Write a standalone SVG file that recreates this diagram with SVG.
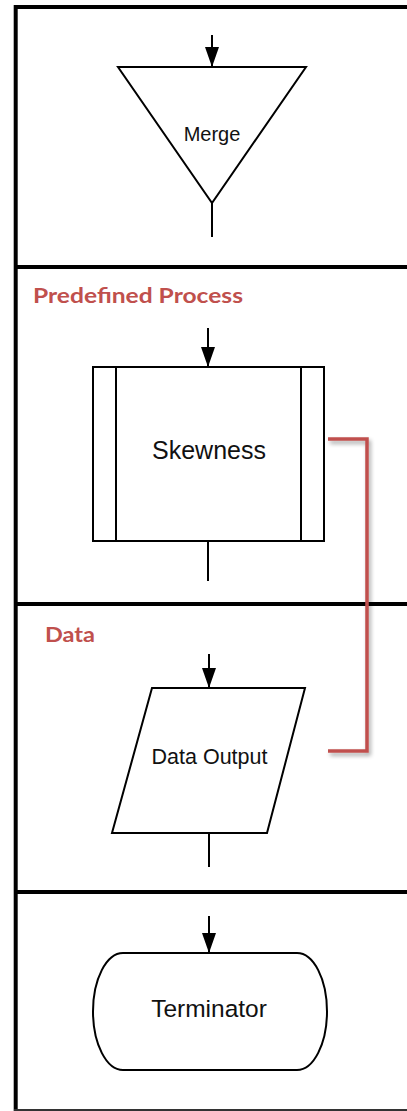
<svg xmlns="http://www.w3.org/2000/svg" width="407" height="1111" viewBox="0 0 407 1111">
  <style>
    .frame { stroke: #000; stroke-width: 4; fill: none; }
    .shape { stroke: #000; stroke-width: 2; fill: #fff; }
    .flow { stroke: #000; stroke-width: 2; fill: none; }
    .label { font-family: "Liberation Sans", Arial, sans-serif; fill: #111; text-anchor: middle; }
    .title { font-family: Lato, "Open Sans", "Liberation Sans", sans-serif; font-weight: bold; fill: #c0504d; }
    .link { stroke: #c0504d; stroke-width: 3.5; fill: none; }
  </style>
  <defs>
    <marker id="arrow" viewBox="0 0 20 14" refX="20" refY="7" markerWidth="20" markerHeight="14" markerUnits="userSpaceOnUse" orient="auto">
      <path d="M0,0 L20,7 L0,14 Z" fill="#000"/>
    </marker>
    <filter id="shadow" x="-20%" y="-20%" width="140%" height="140%">
      <feGaussianBlur in="SourceAlpha" stdDeviation="2"/>
      <feOffset dx="2" dy="3" result="b"/>
      <feComponentTransfer><feFuncA type="linear" slope="0.35"/></feComponentTransfer>
      <feMerge><feMergeNode/><feMergeNode in="SourceGraphic"/></feMerge>
    </filter>
  </defs>

  <rect width="407" height="1111" fill="#fff"/>

  <!-- panel frame -->
  <g id="frame">
    <line class="frame" x1="14" y1="7" x2="407" y2="7"/>
    <line class="frame" x1="15.7" y1="5" x2="15.7" y2="1111"/>
    <line class="frame" x1="14" y1="267" x2="407" y2="267"/>
    <line class="frame" x1="14" y1="604" x2="407" y2="604"/>
    <line class="frame" x1="14" y1="892" x2="407" y2="892"/>
    <line x1="14" y1="1110" x2="407" y2="1110" stroke="#333" stroke-width="2"/>
  </g>

  <!-- section headings -->
  <text class="title" x="33" y="303" font-size="21" textLength="210" lengthAdjust="spacingAndGlyphs">Predefined Process</text>
  <text class="title" x="45" y="642" font-size="21.5" textLength="50" lengthAdjust="spacingAndGlyphs">Data</text>

  <g id="merge">
    <polygon class="shape" points="118,67 306,67 212,203"/>
    <text class="label" x="212" y="140.5" font-size="20">Merge</text>
  </g>

  <g id="skewness">
    <rect class="shape" x="93" y="367" width="231" height="174"/>
    <line class="flow" x1="116" y1="367" x2="116" y2="541"/>
    <line class="flow" x1="301" y1="367" x2="301" y2="541"/>
    <text class="label" x="209" y="459" font-size="25">Skewness</text>
  </g>

  <g id="data-output">
    <polygon class="shape" points="152,688 305,688 267,833 112,833"/>
    <text class="label" x="209.5" y="764" font-size="21.5">Data Output</text>
  </g>

  <g id="terminator">
    <rect class="shape" x="93" y="953" width="234" height="117" rx="30" ry="58.5"/>
    <text class="label" x="209" y="1017" font-size="24.5">Terminator</text>
  </g>

  <!-- connectors -->
  <g id="connectors">
    <line class="flow" x1="212" y1="35" x2="212" y2="67" marker-end="url(#arrow)"/>
    <line class="flow" x1="212" y1="203" x2="212" y2="237"/>
    <line class="flow" x1="208" y1="328" x2="208" y2="367" marker-end="url(#arrow)"/>
    <line class="flow" x1="208" y1="541" x2="208" y2="581"/>
    <line class="flow" x1="209" y1="654" x2="209" y2="688" marker-end="url(#arrow)"/>
    <line class="flow" x1="209" y1="833" x2="209" y2="867"/>
    <line class="flow" x1="209" y1="916" x2="209" y2="953" marker-end="url(#arrow)"/>
    <polyline class="link" filter="url(#shadow)" points="328,439 367,439 367,751 328,751"/>
  </g>
</svg>
